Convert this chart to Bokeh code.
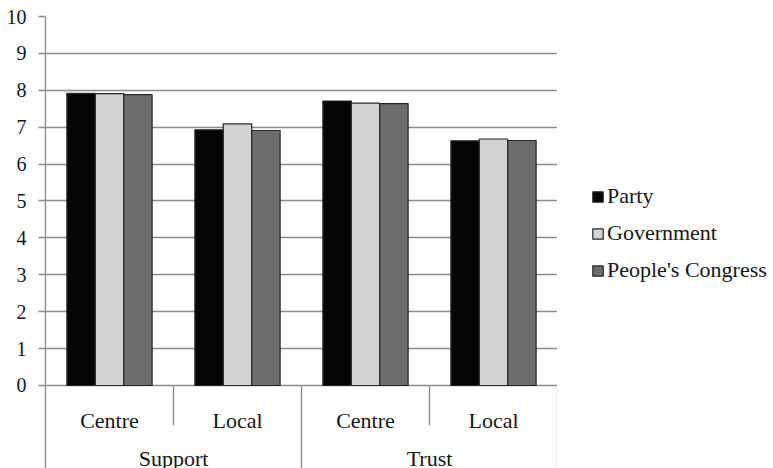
from bokeh.plotting import figure
from bokeh.models import (ColumnDataSource, FactorRange, Range1d, FixedTicker,
                          Legend, LegendItem)
from bokeh.layouts import row
from bokeh.transform import dodge
from bokeh.core.properties import value
from bokeh.embed import file_html
from bokeh.resources import INLINE

# ---- data ----
groups = ["Support", "Trust"]
subgroups = ["Centre", "Local"]
series = ["Party", "Government", "People's Congress"]
party = [7.92, 6.93, 7.71, 6.63]
government = [7.91, 7.09, 7.65, 6.68]
congress = [7.88, 6.91, 7.64, 6.64]
y_ticks = [0, 1, 2, 3, 4, 5, 6, 7, 8, 9, 10]

factors = [(g, s) for g in groups for s in subgroups]

FONT = "Liberation Serif"
GRID = "#8a8a8a"
TXT = "#161616"
colors = ["#050505", "#d2d2d2", "#6c6c6c"]
cols = ["party", "government", "congress"]

source = ColumnDataSource(data=dict(x=factors, party=party,
                                    government=government, congress=congress))

p = figure(width=557, height=468, output_backend="svg", toolbar_location=None,
           x_range=FactorRange(*factors, group_padding=0, factor_padding=0,
                               range_padding=0),
           y_range=Range1d(-2.25, 10), x_axis_location=None,
           min_border_left=45, min_border_right=0, min_border_top=16,
           min_border_bottom=0)
p.outline_line_color = None
p.background_fill_color = "white"
p.border_fill_color = "white"
p.xgrid.visible = False

# y axis
p.yaxis.ticker = FixedTicker(ticks=y_ticks)
p.ygrid.ticker = FixedTicker(ticks=y_ticks)
p.ygrid.grid_line_color = GRID
p.ygrid.grid_line_width = 1.3
p.yaxis.axis_line_color = GRID
p.yaxis.axis_line_width = 1.3
p.yaxis.major_tick_line_color = GRID
p.yaxis.major_tick_line_width = 1.3
p.yaxis.major_tick_out = 7
p.yaxis.major_tick_in = 0
p.yaxis.minor_tick_line_color = None
p.yaxis.major_label_standoff = 12
p.yaxis.major_label_text_font = FONT
p.yaxis.major_label_text_font_size = "20px"
p.yaxis.major_label_text_color = TXT

w = 0.222
offsets = [-w, 0.0, w]
for c, col, off in zip(colors, cols, offsets):
    p.vbar(x=dodge("x", off, range=p.x_range), top=col, bottom=0, width=w,
           source=source, fill_color=c, line_color="#262626", line_width=1.2)

# category separators below the axis
sub_div = [(g, subgroups[-1], -0.5) for g in groups]
grp_div = [(g, subgroups[0], -0.5) for g in groups[1:]] + [(groups[-1], subgroups[-1], 0.5)]
p.segment(x0=sub_div, y0=[0] * len(sub_div), x1=sub_div, y1=[-1.08] * len(sub_div),
          line_color=GRID, line_width=1.3)
p.segment(x0=grp_div, y0=[0] * len(grp_div), x1=grp_div, y1=[-2.25] * len(grp_div),
          line_color=GRID, line_width=1.3)

# category labels
p.text(x=factors, y=[0] * len(factors), text=[f[1] for f in factors],
       y_offset=35, text_align="center", text_baseline="alphabetic",
       text_font=value(FONT), text_font_size="22px", text_color=TXT)
p.text(x=groups, y=[0] * len(groups), text=groups,
       y_offset=73, text_align="center", text_baseline="alphabetic",
       text_font=value(FONT), text_font_size="22px", text_color=TXT)

# legend panel (separate figure to the right); its bars lie far outside its view
lg = figure(width=216, height=468, output_backend="svg", toolbar_location=None,
            x_range=FactorRange(*factors), y_range=Range1d(20, 21),
            x_axis_location=None, y_axis_location=None,
            min_border_left=0, min_border_right=0, min_border_top=0,
            min_border_bottom=0)
lg.grid.visible = False
lg.outline_line_color = None
lg.background_fill_color = "white"
lg.border_fill_color = "white"
dummies = [lg.vbar(x="x", top=col, bottom=0, width=0.2, source=source, fill_color=c,
                   line_color="#262626", line_width=1.2) for c, col in zip(colors, cols)]

legend = Legend(items=[LegendItem(label=s, renderers=[r]) for s, r in zip(series, dummies)],
                location=(34, 185), orientation="vertical",
                glyph_width=13, glyph_height=13, label_height=22, spacing=11,
                label_standoff=3, padding=0, margin=0,
                border_line_color=None, background_fill_alpha=0,
                label_text_font=FONT, label_text_font_size="22px",
                label_text_color=TXT)
lg.add_layout(legend, "center")

layout = row(p, lg, spacing=0)
open("out.html", "w").write(file_html(layout, INLINE))
